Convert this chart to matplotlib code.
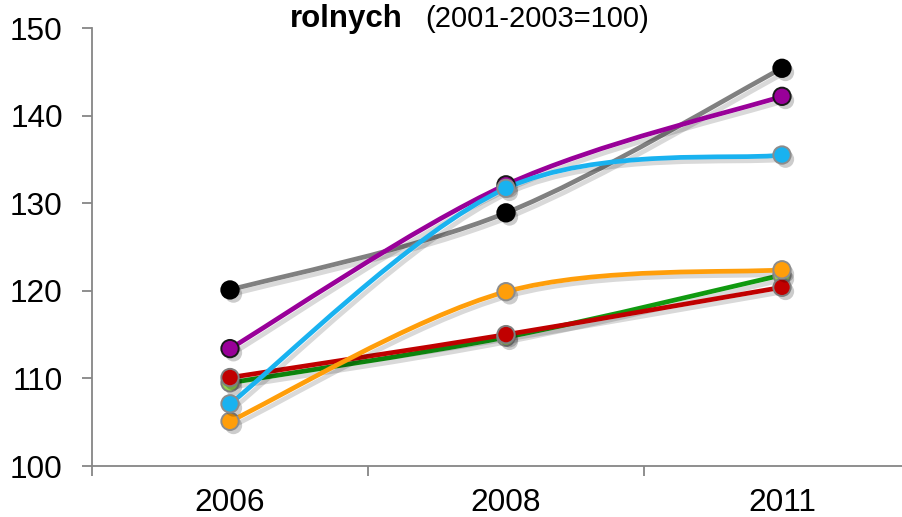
import matplotlib

matplotlib.use("Agg")
import matplotlib.pyplot as plt  # noqa: E402
import matplotlib.patheffects as pe  # noqa: E402
import numpy as np  # noqa: E402
from matplotlib.path import Path  # noqa: E402
from matplotlib.patches import PathPatch  # noqa: E402

plt.rcParams["font.family"] = ["Liberation Sans", "DejaVu Sans"]

YEARS = ["2006", "2008", "2011"]

# index values (2001-2003 = 100)
gray = [120.1, 128.9, 145.4]
purple = [113.4, 132.1, 142.2]
blue = [107.1, 131.7, 135.5]
orange = [105.1, 119.9, 122.4]
green = [109.5, 114.7, 121.8]
red = [110.1, 115.0, 120.4]

# (values, line colour, marker face, marker edge) - bottom to top
SERIES = [
    (gray, "#808080", "#000000", "#000000"),
    (green, "#109A10", "#92D050", "#7F7F7F"),
    (red, "#C00000", "#C00000", "#7F7F7F"),
    (orange, "#FF9E0A", "#FF9E0A", "#8C8C8C"),
    (purple, "#990099", "#990099", "#1A1A1A"),
    (blue, "#19B2F0", "#19B2F0", "#8C8C8C"),
]

fig = plt.figure(figsize=(9.03, 5.17), dpi=100, facecolor="white")
ax = fig.add_axes([92 / 903, 51 / 517, 828 / 903, 438 / 517])

shadow_line = [pe.SimpleLineShadow(offset=(2.5, -3), shadow_color="#000000",
                                   alpha=0.15), pe.Normal()]
shadow_mark = [pe.SimplePatchShadow(offset=(2.5, -3), shadow_rgbFace="#000000",
                                    alpha=0.2), pe.Normal()]


def smooth_path(xs, ys):
    """Excel-like smoothed line: cubic Bezier with Catmull-Rom handles."""
    pts = np.column_stack([np.asarray(xs, float), np.asarray(ys, float)])
    n = len(pts)
    verts = [pts[0]]
    codes = [Path.MOVETO]
    for i in range(n - 1):
        p0 = pts[max(i - 1, 0)]
        p1, p2 = pts[i], pts[i + 1]
        p3 = pts[min(i + 2, n - 1)]
        verts += [p1 + (p2 - p0) / 6.0, p2 - (p3 - p1) / 6.0, p2]
        codes += [Path.CURVE4] * 3
    return Path(verts, codes)


x = np.arange(len(YEARS))
for vals, lc, fc, ec in SERIES:
    patch = PathPatch(smooth_path(x, vals), fill=False, edgecolor=lc,
                      linewidth=3.4, capstyle="round", joinstyle="round",
                      transform=ax.transData)
    patch.set_path_effects(shadow_line)
    ax.add_patch(patch)
    ax.plot(x, vals, linestyle="none", marker="o", markersize=12.5,
            markerfacecolor=fc, markeredgecolor=ec, markeredgewidth=1.4,
            path_effects=shadow_mark, zorder=3)

ax.set_xlim(-0.5, 2.5)
ax.set_ylim(100, 150)
ax.set_yticks(range(100, 151, 10))
ax.set_xticks([-0.5, 0.5, 1.5, 2.5])
ax.set_xticklabels([])
ax.set_xticks(x, minor=True)
ax.set_xticklabels(YEARS, minor=True)

for side in ("top", "right"):
    ax.spines[side].set_visible(False)
for side in ("left", "bottom"):
    ax.spines[side].set_color("#868686")
    ax.spines[side].set_linewidth(1.3)

ax.tick_params(axis="y", which="major", length=7, width=1.3, color="#868686",
               labelsize=22.8, pad=14)
ax.tick_params(axis="x", which="major", length=7, width=1.3, color="#868686")
ax.tick_params(axis="x", which="minor", length=0, labelsize=22.8, pad=16)

fig.text(290 / 903, 1 - 27 / 517, "rolnych", fontsize=22.5, fontweight="bold",
         ha="left", va="baseline")
fig.text(425 / 903, 1 - 27 / 517, "(2001-2003=100)", fontsize=21,
         ha="left", va="baseline")

fig.savefig("out.png", dpi=100, facecolor="white")
